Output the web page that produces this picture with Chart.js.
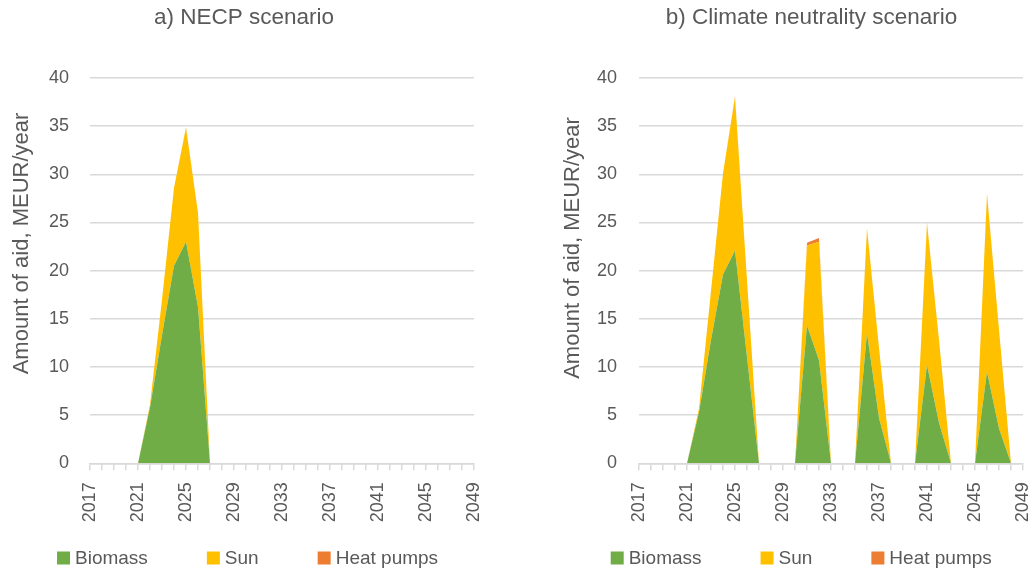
<!DOCTYPE html>
<html>
<head>
<meta charset="utf-8">
<script src="https://cdn.jsdelivr.net/npm/chart.js@4.4.1/dist/chart.umd.min.js"></script>
<style>
  html, body { margin: 0; padding: 0; background: #ffffff; }
  .panel { position: absolute; top: 0; height: 574px; }
  #panelA { left: 0; width: 517px; }
  #panelB { left: 517px; width: 518px; }
</style>
</head>
<body>
<div class="panel" id="panelA"><canvas id="necp"></canvas></div>
<div class="panel" id="panelB"><canvas id="neutral"></canvas></div>
<script>
// Years on the horizontal axis
const years = [
  '2017','2018','2019','2020','2021','2022','2023','2024','2025','2026','2027',
  '2028','2029','2030','2031','2032','2033','2034','2035','2036','2037','2038',
  '2039','2040','2041','2042','2043','2044','2045','2046','2047','2048','2049'
];

// a) NECP scenario, MEUR/year
const biomassNecp = [0,0,0,0,0, 5.8,13.3,20.5,23.0,16.2, 0,0,0,0,0,0,0,0,0,0,0,0,0,0,0,0,0,0,0,0,0,0,0];
const sunNecp     = [0,0,0,0,0, 0.3,3.7,8.1,11.8,9.8,   0,0,0,0,0,0,0,0,0,0,0,0,0,0,0,0,0,0,0,0,0,0,0];
const heatNecp    = [0,0,0,0,0, 0,0,0,0.1,0,            0,0,0,0,0,0,0,0,0,0,0,0,0,0,0,0,0,0,0,0,0,0,0];

// b) Climate neutrality scenario, MEUR/year
const biomassNeutral = [0,0,0,0,0, 5.3,12.8,19.6,22.1,11.0, 0,0,0,0, 14.3,10.7, 0,0,0, 13.5,4.7, 0,0,0, 10.2,4.2, 0,0,0, 9.5,3.6, 0,0];
const sunNeutral     = [0,0,0,0,0, 0.4,5.1,10.5,15.9,8.0,   0,0,0,0, 8.3,12.3,  0,0,0, 10.8,7.3, 0,0,0, 14.7,8.6, 0,0,0, 18.4,10.3, 0,0];
const heatNeutral    = [0,0,0,0,0, 0,0,0,0.1,0,             0,0,0,0, 0.3,0.4,   0,0,0, 0.1,0,    0,0,0, 0.1,0,    0,0,0, 0.1,0,     0,0];

const FONT = "'Liberation Sans', Arial, sans-serif";
const TEXT = '#595959';
const GRID = '#d9d9d9';

// Panel heading, rotated value-axis title and the series key below the axis
const panelText = {
  id: 'panelText',
  afterDraw(chart, args, opts) {
    const ctx = chart.ctx;
    ctx.save();
    ctx.fillStyle = TEXT;
    ctx.textAlign = 'center';
    ctx.textBaseline = 'middle';
    ctx.font = '22.5px ' + FONT;
    ctx.fillText(opts.title, opts.titleX, opts.titleY);

    ctx.save();
    ctx.translate(opts.axisX, opts.axisY);
    ctx.rotate(-Math.PI / 2);
    ctx.font = '22px ' + FONT;
    ctx.fillText('Amount of aid, MEUR/year', 0, 0);
    ctx.restore();

    // key: square swatch + label per dataset
    ctx.font = '19px ' + FONT;
    ctx.textAlign = 'left';
    let x = opts.legendX;
    const y = opts.legendY;
    const box = 13;
    chart.data.datasets.forEach(ds => {
      ctx.fillStyle = ds.backgroundColor;
      ctx.fillRect(x, y - box / 2, box, box);
      ctx.fillStyle = TEXT;
      ctx.fillText(ds.label, x + box + 5, y + 1);
      x += box + 5 + ctx.measureText(ds.label).width + 59;
    });
    ctx.restore();
  }
};

function series(label, values, color, fill) {
  return {
    label: label,
    data: values,
    backgroundColor: color,
    borderColor: 'rgba(0,0,0,0)',
    borderWidth: 0,
    fill: fill,
    pointRadius: 0,
    pointHoverRadius: 0,
    tension: 0
  };
}

function buildChart(id, biomass, sun, heat, L) {
  return new Chart(document.getElementById(id), {
    type: 'line',
    data: {
      labels: years,
      datasets: [
        series('Biomass', biomass, '#70ad47', 'origin'),
        series('Sun', sun, '#ffc000', '-1'),
        series('Heat pumps', heat, '#ed7d31', '-1')
      ]
    },
    options: {
      responsive: true,
      maintainAspectRatio: false,
      animation: false,
      layout: { padding: { left: L.padLeft, right: L.padRight, top: 78, bottom: 0 } },
      plugins: {
        title: { display: false },
        tooltip: { enabled: false },
        legend: { display: false },
        panelText: {
          title: L.title, titleX: L.titleX, titleY: 18,
          axisX: L.axisX, axisY: L.axisY,
          legendX: L.legendX, legendY: 558
        }
      },
      scales: {
        x: {
          grid: { display: true, drawOnChartArea: false, drawTicks: true, tickLength: 7, color: GRID, lineWidth: 1.5 },
          border: { display: true, color: GRID, width: 1.5 },
          ticks: {
            autoSkip: false, minRotation: 90, maxRotation: 90, padding: 12,
            color: TEXT, font: { family: FONT, size: 18 },
            callback(value, index) { return index % 4 === 0 ? this.getLabelForValue(value) : ''; }
          },
          afterFit(s) { s.height = 110.7; s.paddingLeft = 0; s.paddingRight = 0; }
        },
        y: {
          stacked: true,
          min: 0, max: 40,
          ticks: { stepSize: 5, padding: L.tickPad, color: TEXT, font: { family: FONT, size: 18 } },
          grid: { color: GRID, lineWidth: 1.5, drawTicks: false },
          border: { display: false },
          afterFit(s) { s.width = L.axisWidth; s.paddingTop = 0; s.paddingBottom = 0; }
        }
      }
    },
    plugins: [panelText]
  });
}

buildChart('necp', biomassNecp, sunNecp, heatNecp, {
  padLeft: 23, padRight: 43, axisWidth: 67, tickPad: 21,
  title: 'a) NECP scenario', titleX: 244, axisX: 21.5, axisY: 243.5, legendX: 57
});

buildChart('neutral', biomassNeutral, sunNeutral, heatNeutral, {
  padLeft: 64, padRight: 12, axisWidth: 58, tickPad: 22,
  title: 'b) Climate neutrality scenario', titleX: 294.5, axisX: 55.5, axisY: 248, legendX: 93.7
});
</script>
</body>
</html>
